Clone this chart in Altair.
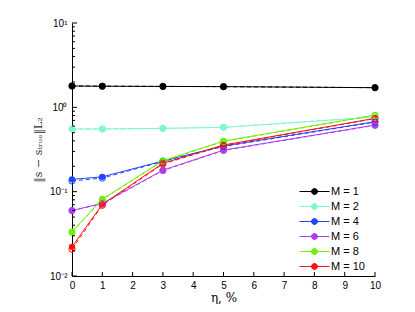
import altair as alt
import pandas as pd

eta = [0, 1, 3, 5, 10]
labels = ["M = 1", "M = 2", "M = 4", "M = 6", "M = 8", "M = 10"]
colors = ["#000000", "#7ff5d6", "#1f45ff", "#b03cf2", "#6ef000", "#ff1010"]

# solid series (filled markers)
m1 = [1.79, 1.78, 1.77, 1.76, 1.71]
m2 = [0.553, 0.553, 0.563, 0.579, 0.767]
m4 = [0.140, 0.150, 0.231, 0.348, 0.675]
m6 = [0.0597, 0.0727, 0.180, 0.311, 0.617]
m8 = [0.0334, 0.0817, 0.233, 0.398, 0.810]
m10 = [0.0222, 0.0706, 0.217, 0.357, 0.741]

# dashed companions (open markers)
m1d = [1.79, 1.78, 1.77, 1.76, 1.71]
m2d = [0.553, 0.553, 0.563, 0.579, 0.767]
m4d = [0.134, 0.145, 0.228, 0.343, 0.668]
m6d = [0.0597, 0.0720, 0.178, 0.308, 0.612]
m8d = [0.0330, 0.0805, 0.230, 0.394, 0.802]
m10d = [0.0208, 0.0690, 0.213, 0.352, 0.735]

solid = [m1, m2, m4, m6, m8, m10]
dashed = [m1d, m2d, m4d, m6d, m8d, m10d]

rows = []
for lab, s, d in zip(labels, solid, dashed):
    for x, v in zip(eta, s):
        rows.append({"eta": x, "err": v, "M": lab, "kind": "solid"})
    for x, v in zip(eta, d):
        rows.append({"eta": x, "err": v, "M": lab, "kind": "dashed"})
df = pd.DataFrame(rows)

minor_y = [m * 10.0 ** e for e in (-2, -1, 0) for m in range(2, 10)]
major_y = [0.01, 0.1, 1, 10]
x_ticks = list(range(0, 11))

W, H = 303, 253
font = "Liberation Sans"
serif = "DejaVu Serif"

xs = alt.Scale(domain=[0, 10], nice=False)
ys = alt.Scale(type="log", domain=[0.01, 10], nice=False)
cs = alt.Scale(domain=labels, range=colors)

label_expr = ("datum.value >= 9 ? '10¹' : datum.value >= 0.9 ? '10⁰' : "
              "datum.value >= 0.09 ? '10⁻¹' : '10⁻²'")

xaxis = alt.Axis(values=x_ticks, ticks=False, grid=False, title="η, %",
                 labelOverlap=False, labelFlush=False,
                 labelFont=font, labelFontSize=10, labelColor="#000",
                 labelPadding=4, domainColor="#000",
                 titleFont=serif, titleFontSize=12, titleFontWeight="normal",
                 titleColor="#000", titlePadding=2)
yaxis = alt.Axis(values=major_y, ticks=False, grid=False, labelExpr=label_expr,
                 labelOverlap=False, labelFlush=False,
                 title="‖s − sₜᵣᵤₑ‖L₂",
                 labelFont=font, labelFontSize=10, labelColor="#000",
                 labelPadding=5, domainColor="#000",
                 titleFont=serif, titleFontSize=11, titleFontWeight="normal",
                 titleColor="#333", titlePadding=6)

legend = alt.Legend(title=None, orient="none", legendX=237, legendY=163,
                    symbolType="M-3,0L3,0M-0.6,0A0.6,0.6,0,1,1,0.6,0A0.6,0.6,0,1,1,-0.6,0Z",
                    symbolSize=100, symbolStrokeWidth=1,
                    labelFont=font, labelFontSize=11, labelColor="#000",
                    rowPadding=3, labelOffset=11, padding=0)

base = alt.Chart(df)

solid_layer = base.transform_filter(alt.datum.kind == "solid").mark_line(
    strokeWidth=1,
    point=alt.OverlayMarkDef(filled=True, size=40, opacity=1),
).encode(
    x=alt.X("eta:Q", scale=xs, axis=xaxis, title="η, %"),
    y=alt.Y("err:Q", scale=ys, axis=yaxis, title="‖s − sₜᵣᵤₑ‖L₂"),
    color=alt.Color("M:N", scale=cs, sort=labels, legend=legend),
)

dash_base = base.transform_filter(alt.datum.kind == "dashed").encode(
    x=alt.X("eta:Q", scale=xs, axis=xaxis, title="η, %"),
    y=alt.Y("err:Q", scale=ys, axis=yaxis, title="‖s − sₜᵣᵤₑ‖L₂"),
    color=alt.Color("M:N", scale=cs, sort=labels, legend=legend),
)
dash_line = dash_base.mark_line(strokeWidth=1, strokeDash=[4, 3])
dash_pts = dash_base.mark_point(filled=False, size=40, strokeWidth=1, opacity=1)

ymaj = alt.Chart(pd.DataFrame({"err": major_y})).mark_rule(color="#000", strokeWidth=1).encode(
    y=alt.Y("err:Q", scale=ys, axis=yaxis, title="‖s − sₜᵣᵤₑ‖L₂"), x=alt.value(0), x2=alt.value(5))
ymin = alt.Chart(pd.DataFrame({"err": minor_y})).mark_rule(color="#000", strokeWidth=1).encode(
    y=alt.Y("err:Q", scale=ys, axis=yaxis, title="‖s − sₜᵣᵤₑ‖L₂"), x=alt.value(0), x2=alt.value(3))
xtk = alt.Chart(pd.DataFrame({"eta": x_ticks})).mark_rule(color="#000", strokeWidth=1).encode(
    x=alt.X("eta:Q", scale=xs, axis=xaxis, title="η, %"), y=alt.value(H), y2=alt.value(H - 4))

chart = alt.layer(solid_layer, dash_line, dash_pts, ymaj, ymin, xtk).properties(
    width=W, height=H,
    autosize=alt.AutoSizeParams(type="none"),
    padding={"left": 64, "top": 15, "right": 30, "bottom": 28},
).configure_view(stroke=None)

chart.save("out.html", embed_options={"renderer": "svg", "actions": False})
